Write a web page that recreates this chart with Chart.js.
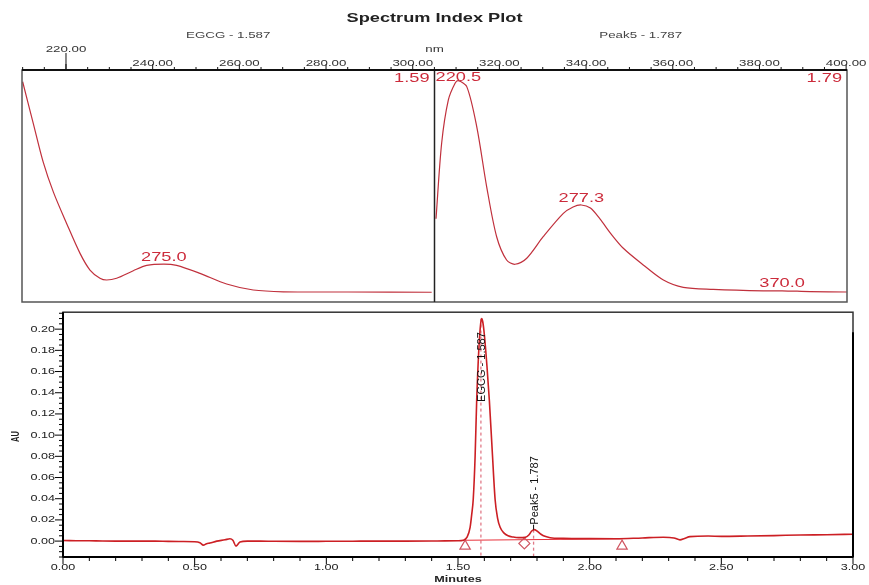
<!DOCTYPE html>
<html lang="en">
<head>
<meta charset="utf-8">
<title>Spectrum Index Plot</title>
<style>
  body{margin:0;background:#fff;}
  #wrap{position:relative;width:869px;height:585px;}
  #specChart{position:absolute;left:0;top:0;}
  #chromChart{position:absolute;left:0;top:305px;}
</style>
<script src="https://cdn.jsdelivr.net/npm/chart.js@4.4.1/dist/chart.umd.min.js"></script>
</head>
<body>
<div id="wrap">
  <canvas id="specChart" width="869" height="305"></canvas>
  <canvas id="chromChart" width="869" height="280"></canvas>
</div>
<script>
// --- UV spectra (nm / relative absorbance) ---
const egcgNm  = [209.8, 214.7, 219.3, 224.0, 230.1, 236.3, 240.9, 245.5, 248.6, 253.2, 260.9, 267.1, 275.0, 280.9, 291.7, 304.0, 316.3, 330.2, 360.0, 398.7];
const egcgAbs = [0.947, 0.760, 0.585, 0.450, 0.309, 0.174, 0.099, 0.062, 0.054, 0.062, 0.096, 0.120, 0.126, 0.120, 0.084, 0.036, 0.009, 0.001, 0.000, -0.001];
const egcgMaxima = [275.0];

const peak5Nm  = [210.2, 212.8, 215.9, 219.0, 220.5, 224.4, 229.0, 233.6, 238.2, 242.8, 246.7, 252.1, 259.7, 269.0, 273.5, 277.3, 281.5, 286.0, 291.0, 296.7, 305.9, 315.2, 324.4, 338.2, 361.3, 370.0, 382.9, 399.9];
const peak5Abs = [0.330, 0.670, 0.865, 0.940, 0.952, 0.925, 0.745, 0.474, 0.249, 0.144, 0.125, 0.152, 0.249, 0.354, 0.383, 0.392, 0.378, 0.328, 0.262, 0.197, 0.122, 0.054, 0.021, 0.012, 0.005, 0.0055, 0.002, 0.000];
const peak5Maxima = [220.5, 277.3, 370.0];

const panelNames = ['EGCG - 1.587', 'Peak5 - 1.787'];
const panelTimes = ['1.59', '1.79'];
const nmTickLabels = ['220.00', '240.00', '260.00', '280.00', '300.00', '320.00', '340.00', '360.00', '380.00', '400.00'];

// --- chromatogram (minutes / AU) ---
const minutes = [0.00, 0.05, 0.10, 0.15, 0.20, 0.25, 0.30, 0.35, 0.40, 0.45, 0.50, 0.52, 0.533, 0.545, 0.558, 0.584, 0.615, 0.634, 0.645, 0.657, 0.672, 0.70, 0.75, 0.80, 0.90, 1.00, 1.10, 1.20, 1.30, 1.40, 1.45, 1.50, 1.52, 1.535, 1.546, 1.552, 1.558, 1.565, 1.571, 1.58, 1.586, 1.590, 1.594, 1.60, 1.61, 1.619, 1.63, 1.641, 1.65, 1.66, 1.675, 1.69, 1.71, 1.73, 1.755, 1.77, 1.78, 1.79, 1.80, 1.815, 1.83, 1.85, 1.90, 2.00, 2.10, 2.20, 2.28, 2.32, 2.343, 2.36, 2.381, 2.45, 2.50, 2.60, 2.70, 2.80, 2.90, 3.00];
const au      = [0.0005, 0.0004, 0.0003, 0.0001, 0.0, 0.0, 0.0, 0.0, -0.0003, -0.0004, -0.0006, -0.0015, -0.0038, -0.0025, -0.0018, 0.0, 0.0012, 0.0022, 0.0008, -0.0047, -0.0008, 0.0, 0.0, -0.0002, -0.0003, -0.0002, -0.0001, 0.0, 0.0, 0.0001, 0.0002, 0.0003, 0.0008, 0.004, 0.013, 0.025, 0.040, 0.080, 0.133, 0.185, 0.205, 0.210, 0.207, 0.195, 0.165, 0.133, 0.085, 0.039, 0.022, 0.013, 0.0075, 0.005, 0.0038, 0.0033, 0.0035, 0.006, 0.0095, 0.0108, 0.0095, 0.0065, 0.0045, 0.0032, 0.0026, 0.0023, 0.0022, 0.003, 0.0036, 0.003, 0.0012, 0.0025, 0.0042, 0.0048, 0.0045, 0.0048, 0.0052, 0.0058, 0.006, 0.0065];

const peakNames  = ['EGCG', 'Peak5'];
const peakRT     = [1.587, 1.787];
const peakHeight = [0.210, 0.0108];

const triangleT  = [1.527, 2.123];
const triangleAU = [-0.0047, -0.0047];
const diamondT   = [1.752];
const diamondAU  = [-0.0022];
const baselineT  = [1.527, 2.123];
const baselineAU = [0.0008, 0.0022];

const minuteTickLabels = ['0.00', '0.50', '1.00', '1.50', '2.00', '2.50', '3.00'];
const auTickLabels = ['0.00', '0.02', '0.04', '0.06', '0.08', '0.10', '0.12', '0.14', '0.16', '0.18', '0.20'];

const SX = 1.4; // the printout is stretched sideways
function txt(ctx, s, x, y, font, color, align, sx, rot) {
  ctx.save();
  ctx.font = font;
  ctx.fillStyle = color;
  ctx.textAlign = align || 'center';
  ctx.textBaseline = 'middle';
  ctx.translate(x, y);
  ctx.scale(sx || SX, 1);
  if (rot) ctx.rotate(rot);
  ctx.fillText(s, 0, 0);
  ctx.restore();
}
function seg(ctx, x1, y1, x2, y2) {
  ctx.beginPath(); ctx.moveTo(x1, y1); ctx.lineTo(x2, y2); ctx.stroke();
}
const pts = (xs, ys) => xs.map((x, i) => ({x: x, y: ys[i]}));
const F = '"Liberation Sans", Arial, sans-serif';
const RED_TXT = '#cc2b3b';

const specDecor = {
  id: 'specDecor',
  afterDraw(chart) {
    const ctx = chart.ctx, a = chart.chartArea, s = chart.scales;
    const mid = s.xL.getPixelForValue(400);
    ctx.save();
    ctx.strokeStyle = '#555'; ctx.lineWidth = 1.5;
    ctx.strokeRect(a.left, a.top, a.right - a.left, a.bottom - a.top);
    ctx.strokeStyle = '#222';
    seg(ctx, mid, a.top, mid, a.bottom);
    ctx.lineWidth = 2; ctx.strokeStyle = '#111';
    seg(ctx, a.left, a.top, a.right, a.top);
    // top nm axis ticks
    ctx.lineWidth = 1;
    for (let k = 42; k <= 80; k++) {
      const v = k * 5, px = s.nm.getPixelForValue(v);
      seg(ctx, px, a.top, px, a.top - (k % 4 === 0 ? 6 : 3));
    }
    nmTickLabels.forEach((l, i) => {
      const px = s.nm.getPixelForValue(parseFloat(l));
      if (i === 0) {
        seg(ctx, px, a.top, px, a.top - 17);
        txt(ctx, l, px, a.top - 21, '9.5px ' + F, '#333');
      } else {
        txt(ctx, l, px, a.top - 7, '9.5px ' + F, '#333');
      }
    });
    ctx.restore();
    txt(ctx, 'nm', mid, a.top - 21, '9.5px ' + F, '#333');
    txt(ctx, 'Spectrum Index Plot', (a.left + a.right) / 2, 18, 'bold 13px ' + F, '#222');
    txt(ctx, panelNames[0], (a.left + mid) / 2, 35, '9.5px ' + F, '#444');
    txt(ctx, panelNames[1], (mid + a.right) / 2, 35, '9.5px ' + F, '#444');
    txt(ctx, panelTimes[0], mid - 5, a.top + 8, '13px ' + F, RED_TXT, 'right');
    txt(ctx, panelTimes[1], a.right - 5, a.top + 8, '13px ' + F, RED_TXT, 'right');
    // wavelength maxima
    const marks = [[egcgMaxima, egcgNm, egcgAbs, s.xL], [peak5Maxima, peak5Nm, peak5Abs, s.xR]];
    marks.forEach(([maxima, nm, ab, xs]) => {
      maxima.forEach(m => {
        const i = nm.indexOf(m);
        const px = xs.getPixelForValue(m);
        const py = Math.max(s.y.getPixelForValue(ab[i]) - 7, a.top + 7);
        txt(ctx, m.toFixed(1), px, py, '13px ' + F, RED_TXT);
      });
    });
  }
};

new Chart(document.getElementById('specChart'), {
  type: 'line',
  data: {
    datasets: [
      {data: pts(egcgNm, egcgAbs), xAxisID: 'xL', yAxisID: 'y', borderColor: '#c0303c', borderWidth: 1.2, pointRadius: 0, tension: 0.3},
      {data: pts(peak5Nm, peak5Abs), xAxisID: 'xR', yAxisID: 'y', borderColor: '#c0303c', borderWidth: 1.2, pointRadius: 0, tension: 0.3}
    ]
  },
  options: {
    responsive: false, animation: false, events: [],
    layout: {padding: {left: 22, right: 22, top: 70, bottom: 3}},
    plugins: {legend: {display: false}, tooltip: {enabled: false}},
    scales: {
      nm: {type: 'linear', axis: 'x', position: 'top', min: 209.85, max: 400.2, display: false},
      xL: {type: 'linear', min: 209.5, max: 590.5, display: false},
      xR: {type: 'linear', min: 19, max: 400, display: false},
      y:  {type: 'linear', min: -0.045, max: 1.0, display: false}
    }
  },
  plugins: [specDecor]
});

const chromDecor = {
  id: 'chromDecor',
  afterDraw(chart) {
    const ctx = chart.ctx, a = chart.chartArea, s = chart.scales;
    ctx.save();
    ctx.strokeStyle = '#333'; ctx.lineWidth = 1.5;
    ctx.strokeRect(a.left, a.top, a.right - a.left, a.bottom - a.top);
    ctx.strokeStyle = '#000'; ctx.lineWidth = 2;
    seg(ctx, a.left, a.top, a.left, a.bottom);
    seg(ctx, a.left, a.bottom, a.right, a.bottom);
    seg(ctx, a.right, a.top + 20, a.right, a.bottom);
    ctx.lineWidth = 1;
    for (let k = -3; k <= 43; k++) {
      const py = s.y.getPixelForValue(k * 0.005);
      seg(ctx, a.left - (k % 4 === 0 ? 8 : 4), py, a.left, py);
    }
    for (let k = 0; k <= 30; k++) {
      const px = s.x.getPixelForValue(k * 0.1);
      seg(ctx, px, a.bottom, px, a.bottom + (k % 5 === 0 ? 7 : 4));
    }
    auTickLabels.forEach(l => txt(ctx, l, a.left - 8, s.y.getPixelForValue(parseFloat(l)), '9px ' + F, '#222', 'right'));
    minuteTickLabels.forEach(l => txt(ctx, l, s.x.getPixelForValue(parseFloat(l)), a.bottom + 11, '9px ' + F, '#222'));
    txt(ctx, 'Minutes', (a.left + a.right) / 2, a.bottom + 23, 'bold 9px ' + F, '#222');
    txt(ctx, 'AU', 16, (a.top + a.bottom) / 2 + 2, 'bold 7.5px ' + F, '#222', 'center', SX, -Math.PI / 2);
    // peak labels
    ctx.strokeStyle = '#111';
    peakNames.forEach((n, i) => {
      const label = n + ' - ' + peakRT[i].toFixed(3);
      ctx.font = '11px ' + F;
      const w = ctx.measureText(label).width;
      const px = s.x.getPixelForValue(peakRT[i]) + 1.5;
      const apex = s.y.getPixelForValue(peakHeight[i]);
      let start = apex - 5;
      if (start - w < a.top + 20) start = a.top + 20 + w;
      if (start < apex) seg(ctx, px - 1.5, apex, px - 1.5, start);
      txt(ctx, label, px, start, '11px ' + F, '#111', 'left', 1, -Math.PI / 2);
    });
    ctx.restore();
  }
};

const dropSets = peakRT.map((t, i) => ({
  data: pts([t, t], [peakHeight[i], -0.015]),
  borderColor: '#e07a88', borderWidth: 1.3, borderDash: [3, 3], pointRadius: 0
}));

new Chart(document.getElementById('chromChart'), {
  type: 'line',
  data: {
    datasets: [
      {data: pts(minutes, au), borderColor: '#cc1f24', borderWidth: 1.6, pointRadius: 0, cubicInterpolationMode: 'monotone'},
      {type: 'scatter', data: pts(triangleT, triangleAU), pointStyle: 'triangle', pointRadius: 6, borderColor: '#d05662', backgroundColor: 'rgba(0,0,0,0)', borderWidth: 1.2},
      {type: 'scatter', data: pts(diamondT, diamondAU), pointStyle: 'rectRot', pointRadius: 5.5, borderColor: '#d05662', backgroundColor: 'rgba(0,0,0,0)', borderWidth: 1.2},
      {data: pts(baselineT, baselineAU), borderColor: '#e8303a', borderWidth: 1, pointRadius: 0},
      ...dropSets
    ]
  },
  options: {
    responsive: false, animation: false, events: [],
    layout: {padding: {left: 63, right: 16, top: 7, bottom: 28}},
    plugins: {legend: {display: false}, tooltip: {enabled: false}},
    scales: {
      x: {type: 'linear', min: 0, max: 3, display: false},
      y: {type: 'linear', min: -0.015, max: 0.216, display: false}
    }
  },
  plugins: [chromDecor]
});
</script>
</body>
</html>
